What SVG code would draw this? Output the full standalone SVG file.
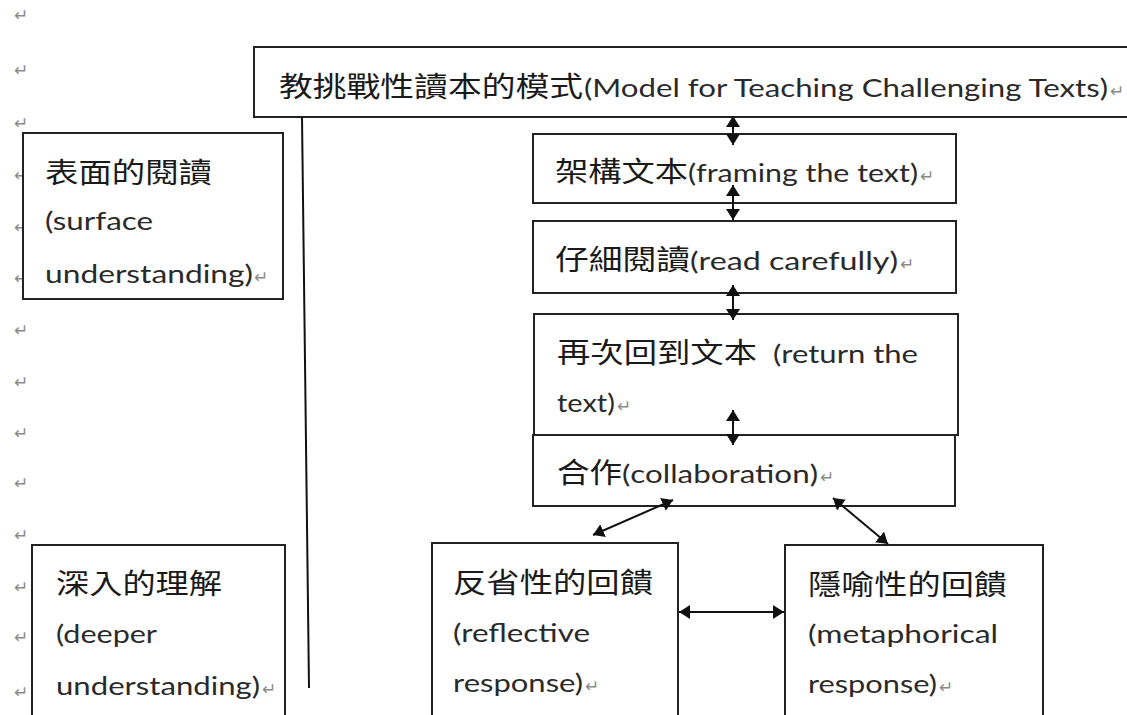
<svg xmlns="http://www.w3.org/2000/svg" width="1127" height="715" viewBox="0 0 1127 715">
<style>
  .box{fill:#fff;stroke:#222;stroke-width:2}
  .cjk{font-family:"Noto Sans CJK TC","Noto Sans CJK SC",sans-serif;font-size:28px;fill:#1a1a1a}
  .lat{font-family:Lato,"Liberation Sans",sans-serif;font-size:25px;fill:#2a2a2a}
  .ret{font-family:"DejaVu Sans",sans-serif;font-size:17px;fill:#8a8a8a}
  .conn{stroke:#111;stroke-width:2;fill:none}
</style>
<defs>
  <marker id="ah" viewBox="0 0 11 14" refX="11" refY="7" markerWidth="11" markerHeight="14" markerUnits="userSpaceOnUse" orient="auto-start-reverse">
    <path d="M0,0 L11,7 L0,14 z" fill="#111"/>
  </marker>
</defs>
<rect width="1127" height="715" fill="#fff"/>

<g id="margin-marks" class="ret">
  <text x="14" y="21">↵</text>
  <text x="14" y="76">↵</text>
  <text x="14" y="129">↵</text>
  <text x="14" y="181">↵</text>
  <text x="14" y="233">↵</text>
  <text x="14" y="284">↵</text>
  <text x="14" y="336">↵</text>
  <text x="14" y="388">↵</text>
  <text x="14" y="439">↵</text>
  <text x="14" y="489">↵</text>
  <text x="14" y="541">↵</text>
  <text x="14" y="593">↵</text>
  <text x="14" y="643">↵</text>
  <text x="14" y="698">↵</text>
</g>

<g id="model">
  <rect class="box" x="254" y="47" width="890" height="70"/>
  <text y="97"><tspan class="cjk" x="279" textLength="304" lengthAdjust="spacingAndGlyphs">教挑戰性讀本的模式</tspan><tspan class="lat" x="584" textLength="524" lengthAdjust="spacingAndGlyphs">(Model for Teaching Challenging Texts)</tspan><tspan class="ret" x="1110">↵</tspan></text>
</g>

<g id="surface">
  <rect class="box" x="23" y="133" width="260" height="166"/>
  <text class="cjk" x="45" y="183" textLength="167" lengthAdjust="spacingAndGlyphs">表面的閱讀</text>
  <text class="lat" x="45" y="230" textLength="108" lengthAdjust="spacingAndGlyphs">(surface</text>
  <text y="283"><tspan class="lat" x="45" textLength="208" lengthAdjust="spacingAndGlyphs">understanding)</tspan><tspan class="ret" x="254">↵</tspan></text>
</g>

<g id="framing">
  <rect class="box" x="533" y="134" width="423" height="69"/>
  <text y="182"><tspan class="cjk" x="555" textLength="133" lengthAdjust="spacingAndGlyphs">架構文本</tspan><tspan class="lat" x="688" textLength="230" lengthAdjust="spacingAndGlyphs">(framing the text)</tspan><tspan class="ret" x="920">↵</tspan></text>
</g>

<g id="read">
  <rect class="box" x="533" y="221" width="423" height="72"/>
  <text y="270"><tspan class="cjk" x="555" textLength="135" lengthAdjust="spacingAndGlyphs">仔細閱讀</tspan><tspan class="lat" x="690" textLength="208" lengthAdjust="spacingAndGlyphs">(read carefully)</tspan><tspan class="ret" x="900">↵</tspan></text>
</g>

<g id="return">
  <rect class="box" x="534" y="314" width="424" height="121"/>
  <text y="363"><tspan class="cjk" x="557" textLength="200" lengthAdjust="spacingAndGlyphs">再次回到文本</tspan> <tspan class="lat" x="773" textLength="145" lengthAdjust="spacingAndGlyphs">(return the</tspan></text>
  <text y="412"><tspan class="lat" x="557" textLength="58" lengthAdjust="spacingAndGlyphs">text)</tspan><tspan class="ret" x="617">↵</tspan></text>
</g>

<g id="collab">
  <rect class="box" x="533" y="435" width="422" height="71"/>
  <text y="483"><tspan class="cjk" x="557" textLength="65" lengthAdjust="spacingAndGlyphs">合作</tspan><tspan class="lat" x="622" textLength="196" lengthAdjust="spacingAndGlyphs">(collaboration)</tspan><tspan class="ret" x="820">↵</tspan></text>
</g>

<g id="deeper">
  <rect class="box" x="32" y="545" width="253" height="190"/>
  <text class="cjk" x="56" y="594" textLength="166" lengthAdjust="spacingAndGlyphs">深入的理解</text>
  <text class="lat" x="56" y="643" textLength="101" lengthAdjust="spacingAndGlyphs">(deeper</text>
  <text y="695"><tspan class="lat" x="56" textLength="204" lengthAdjust="spacingAndGlyphs">understanding)</tspan><tspan class="ret" x="262">↵</tspan></text>
</g>

<g id="reflective">
  <rect class="box" x="432" y="543" width="246" height="190"/>
  <text class="cjk" x="453" y="593" textLength="200" lengthAdjust="spacingAndGlyphs">反省性的回饋</text>
  <text class="lat" x="453" y="642" textLength="137" lengthAdjust="spacingAndGlyphs">(reflective</text>
  <text y="692"><tspan class="lat" x="453" textLength="130" lengthAdjust="spacingAndGlyphs">response)</tspan><tspan class="ret" x="585">↵</tspan></text>
</g>

<g id="metaphorical">
  <rect class="box" x="785" y="545" width="258" height="190"/>
  <text class="cjk" x="808" y="595" textLength="199" lengthAdjust="spacingAndGlyphs">隱喻性的回饋</text>
  <text class="lat" x="808" y="643" textLength="190" lengthAdjust="spacingAndGlyphs">(metaphorical</text>
  <text y="693"><tspan class="lat" x="808" textLength="129" lengthAdjust="spacingAndGlyphs">response)</tspan><tspan class="ret" x="939">↵</tspan></text>
</g>

<g id="connectors" class="conn">
  <line x1="733" y1="116" x2="733" y2="145" marker-start="url(#ah)" marker-end="url(#ah)"/>
  <line x1="733" y1="185" x2="733" y2="220" marker-start="url(#ah)" marker-end="url(#ah)"/>
  <line x1="733" y1="285" x2="733" y2="320" marker-start="url(#ah)" marker-end="url(#ah)"/>
  <line x1="733" y1="410" x2="733" y2="445" marker-start="url(#ah)" marker-end="url(#ah)"/>
  <line x1="673" y1="500" x2="593" y2="535" marker-start="url(#ah)" marker-end="url(#ah)"/>
  <line x1="833" y1="498" x2="888" y2="544" marker-start="url(#ah)" marker-end="url(#ah)"/>
  <line x1="679" y1="612" x2="784" y2="612" marker-start="url(#ah)" marker-end="url(#ah)"/>
  <line x1="302" y1="117" x2="309" y2="688"/>
</g>
</svg>
